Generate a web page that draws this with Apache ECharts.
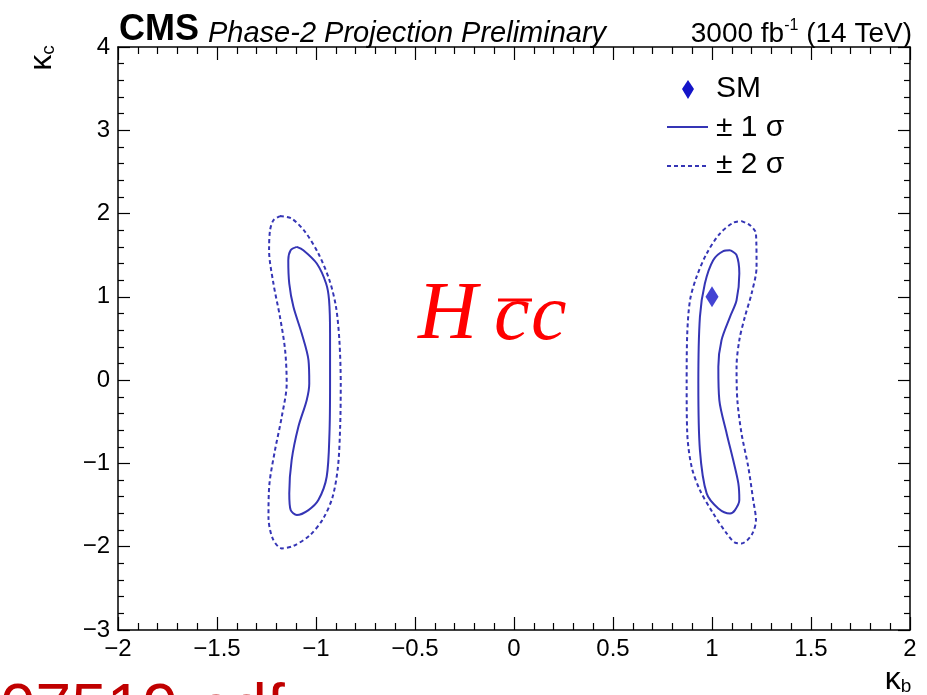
<!DOCTYPE html>
<html>
<head>
<meta charset="utf-8">
<script src="https://cdn.jsdelivr.net/npm/echarts@6/dist/echarts.min.js"></script>
<style>
  html, body { margin: 0; background: #fff; }
  #chart { width: 927px; height: 695px; }
</style>
</head>
<body>
<div id="chart"></div>
<script>
// axis ticks
const kbTicks = [-2, -1.5, -1, -0.5, 0, 0.5, 1, 1.5, 2]
const kcTicks = [-3, -2, -1, 0, 1, 2, 3, 4]

// Standard Model point
const smPoint = [[1, 1]]

// contours, [kappa_b, kappa_c]
const sigma1Left = [[-1.097, 1.60], [-1.064, 1.56], [-0.996, 1.40], [-0.949, 1.16], [-0.934, 0.96], [-0.929, 0.56], [-0.929, -0.04], [-0.932, -0.64], [-0.946, -1.16], [-0.988, -1.44], [-1.038, -1.56], [-1.097, -1.62], [-1.128, -1.56], [-1.135, -1.36], [-1.123, -0.96], [-1.089, -0.56], [-1.047, -0.24], [-1.034, -0.04], [-1.038, 0.24], [-1.072, 0.56], [-1.114, 0.88], [-1.135, 1.16], [-1.140, 1.44], [-1.128, 1.56], [-1.097, 1.60]]
const sigma2Left = [[-1.182, 1.97], [-1.123, 1.94], [-1.055, 1.78], [-0.988, 1.52], [-0.932, 1.20], [-0.899, 0.88], [-0.882, 0.48], [-0.875, -0.04], [-0.878, -0.56], [-0.889, -1.04], [-0.916, -1.40], [-0.963, -1.66], [-1.030, -1.86], [-1.114, -1.99], [-1.173, -2.02], [-1.219, -1.90], [-1.240, -1.64], [-1.235, -1.24], [-1.207, -0.84], [-1.173, -0.44], [-1.148, -0.04], [-1.156, 0.36], [-1.182, 0.76], [-1.215, 1.16], [-1.237, 1.56], [-1.232, 1.80], [-1.215, 1.92], [-1.182, 1.97]]
const sigma1Right = [[1.091, 1.56], [1.124, 1.50], [1.138, 1.28], [1.124, 0.96], [1.091, 0.76], [1.048, 0.48], [1.032, 0.16], [1.037, -0.24], [1.074, -0.64], [1.107, -0.96], [1.133, -1.24], [1.138, -1.44], [1.116, -1.56], [1.091, -1.60], [1.032, -1.54], [0.973, -1.36], [0.939, -0.84], [0.931, -0.04], [0.939, 0.76], [0.964, 1.16], [1.006, 1.44], [1.057, 1.55], [1.091, 1.56]]
const sigma2Right = [[1.149, 1.91], [1.192, 1.86], [1.222, 1.76], [1.225, 1.36], [1.200, 1.04], [1.166, 0.76], [1.138, 0.48], [1.124, 0.16], [1.128, -0.24], [1.149, -0.64], [1.183, -1.04], [1.208, -1.44], [1.222, -1.68], [1.200, -1.86], [1.149, -1.96], [1.116, -1.95], [1.074, -1.84], [1.006, -1.60], [0.939, -1.32], [0.897, -1.04], [0.875, -0.64], [0.872, -0.04], [0.875, 0.56], [0.889, 0.96], [0.922, 1.24], [0.973, 1.52], [1.040, 1.76], [1.107, 1.89], [1.149, 1.91]]

const FONT = "'Liberation Sans', Arial, Helvetica, sans-serif"
const SERIF = '"Liberation Serif", "DejaVu Serif", serif'
const BLUE = '#3535b5'
const DASH = [4, 3]

let myChart = echarts.init(document.getElementById('chart'))

function minus (v) {
  return String(v).replace('-', '\u2212')
}

function axisX (pos, labels) {
  return {
    type: 'value',
    position: pos,
    min: kbTicks[0],
    max: kbTicks[kbTicks.length - 1],
    interval: kbTicks[1] - kbTicks[0],
    axisLine: { show: true, onZero: false, lineStyle: { color: '#000', width: 1.5 } },
    axisTick: { show: true, inside: true, length: 13, lineStyle: { color: '#000', width: 1.2 } },
    minorTick: { show: true, splitNumber: 5, length: 7, lineStyle: { color: '#000', width: 1.2 } },
    axisLabel: { show: labels, margin: 7, color: '#000', fontFamily: FONT, fontSize: 24, formatter: minus },
    splitLine: { show: false }
  }
}

function axisY (pos, labels) {
  return {
    type: 'value',
    position: pos,
    min: kcTicks[0],
    max: kcTicks[kcTicks.length - 1],
    interval: kcTicks[1] - kcTicks[0],
    axisLine: { show: true, onZero: false, lineStyle: { color: '#000', width: 1.5 } },
    axisTick: { show: true, inside: true, length: 12, lineStyle: { color: '#000', width: 1.2 } },
    minorTick: { show: true, splitNumber: 5, length: 6, lineStyle: { color: '#000', width: 1.2 } },
    axisLabel: { show: labels, margin: 8, color: '#000', fontFamily: FONT, fontSize: 24, formatter: minus },
    splitLine: { show: false }
  }
}

function contour (data, dashed) {
  return {
    type: 'line',
    data: data,
    smooth: 0.3,
    showSymbol: false,
    silent: true,
    lineStyle: { color: BLUE, width: 2, type: dashed ? DASH : 'solid' }
  }
}

let option = {
  animation: false,
  grid: { left: 118, right: 17, top: 47, bottom: 65 },
  xAxis: [axisX('bottom', true), axisX('top', false)],
  yAxis: [axisY('left', true), axisY('right', false)],
  series: [
    contour(sigma2Left, true),
    contour(sigma1Left, false),
    contour(sigma2Right, true),
    contour(sigma1Right, false),
    {
      type: 'scatter',
      data: smPoint,
      symbol: 'diamond',
      symbolSize: [13, 21],
      itemStyle: { color: '#1414c8' }
    }
  ],
  graphic: [
    { type: 'text', x: 119, y: 30, style: { text: 'CMS', font: 'bold 36px ' + FONT, fill: '#000', verticalAlign: 'middle' } },
    { type: 'text', x: 208, y: 34, style: { text: 'Phase-2 Projection Preliminary', font: 'italic 29px ' + FONT, fill: '#000', verticalAlign: 'middle' } },
    {
      type: 'text', x: 912, y: 34,
      style: {
        text: '{a|3000 fb}{s|-1}{a| (14 TeV)}', align: 'right', verticalAlign: 'middle',
        rich: {
          a: { fontFamily: FONT, fontSize: 28, lineHeight: 32, fill: '#000' },
          s: { fontFamily: FONT, fontSize: 16, lineHeight: 16, verticalAlign: 'top', fill: '#000' }
        }
      }
    },
    // axis titles
    {
      type: 'text', x: 42, y: 58, rotation: Math.PI / 2,
      style: {
        text: '{k|\u03ba}{s|c}', align: 'center', verticalAlign: 'middle',
        rich: {
          k: { fontFamily: FONT, fontSize: 32, lineHeight: 32, fill: '#000' },
          s: { fontFamily: FONT, fontSize: 19, lineHeight: 19, verticalAlign: 'bottom', fill: '#000' }
        }
      }
    },
    {
      type: 'text', x: 898, y: 680,
      style: {
        text: '{k|\u03ba}{s|b}', align: 'center', verticalAlign: 'middle',
        rich: {
          k: { fontFamily: FONT, fontSize: 32, lineHeight: 32, fill: '#000' },
          s: { fontFamily: FONT, fontSize: 19, lineHeight: 19, verticalAlign: 'bottom', fill: '#000' }
        }
      }
    },
    // legend
    { type: 'polygon', shape: { points: [[688, 80], [694, 89], [688, 99], [682, 89]] }, style: { fill: '#1414c8' } },
    { type: 'text', x: 716, y: 89, style: { text: 'SM', font: '30px ' + FONT, fill: '#000', verticalAlign: 'middle' } },
    { type: 'line', shape: { x1: 667, y1: 127, x2: 708, y2: 127 }, style: { stroke: BLUE, lineWidth: 2 } },
    { type: 'text', x: 716, y: 128, style: { text: '\u00b1 1 \u03c3', font: '30px ' + FONT, fill: '#000', verticalAlign: 'middle' } },
    { type: 'line', shape: { x1: 667, y1: 166, x2: 708, y2: 166 }, style: { stroke: BLUE, lineWidth: 2, lineDash: DASH } },
    { type: 'text', x: 716, y: 165, style: { text: '\u00b1 2 \u03c3', font: '30px ' + FONT, fill: '#000', verticalAlign: 'middle' } },
    // process label
    { type: 'text', x: 418, y: 316, style: { text: 'H', font: 'italic 82px ' + SERIF, fill: '#ff0000', verticalAlign: 'middle' } },
    { type: 'text', x: 494, y: 318, style: { text: 'c', font: 'italic 80px ' + SERIF, fill: '#ff0000', verticalAlign: 'middle' } },
    { type: 'text', x: 531, y: 318, style: { text: 'c', font: 'italic 80px ' + SERIF, fill: '#ff0000', verticalAlign: 'middle' } },
    { type: 'line', shape: { x1: 498, y1: 300, x2: 532, y2: 300 }, style: { stroke: '#ff0000', lineWidth: 3 } },
    // cut-off file name at the bottom
    { type: 'text', x: 0, y: 711, style: { text: '07519.pdf', font: '64px ' + FONT, fill: '#c00000', verticalAlign: 'middle' } }
  ]
}

myChart.setOption(option, true)
</script>
</body>
</html>
